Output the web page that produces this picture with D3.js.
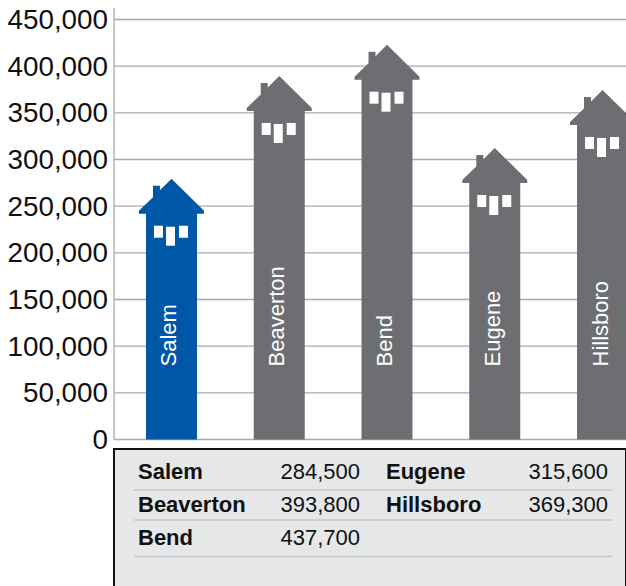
<!DOCTYPE html>
<html>
<head>
<meta charset="utf-8">
<script src="https://cdn.jsdelivr.net/npm/d3@7"></script>
<style>
  html, body { margin: 0; padding: 0; background: #fff; overflow: hidden; }
  text { font-family: "Liberation Sans", Arial, sans-serif; }
</style>
</head>
<body>
<div id="chart"></div>
<script>
const cities = ["Salem", "Beaverton", "Bend", "Eugene", "Hillsboro"];
// heights as drawn in the picture (roof tip read against the axis)
const drawnValues = [279400, 389500, 423000, 312300, 374500];
// numbers printed in the table under the chart
const tableValues = [284500, 393800, 437700, 315600, 369300];
const yTicks = [0, 50000, 100000, 150000, 200000, 250000, 300000, 350000, 400000, 450000];

const width = 626;
const height = 586;
const blue = "#0057a8";
const grey = "#6d6e71";

const svg = d3.select("#chart").append("svg")
  .attr("width", width)
  .attr("height", height);

const x = d3.scaleBand().domain(cities).range([117.6, 656.4]);
const y = d3.scaleLinear().domain([0, 450000]).range([439.5, 19.5]);
const fmt = d3.format(",");

// gridlines
svg.append("g")
  .selectAll("line")
  .data(yTicks.slice(1))
  .join("line")
  .attr("x1", 114)
  .attr("x2", width)
  .attr("y1", (d) => y(d))
  .attr("y2", (d) => y(d))
  .attr("stroke", "#a7a9ac")
  .attr("stroke-width", 1.3);

// axis
const yAxis = d3.axisLeft(y).tickValues(yTicks).tickFormat(fmt).tickSize(0).tickPadding(6);
const axisG = svg.append("g").attr("transform", "translate(114,0)").call(yAxis);
axisG.select(".domain").remove();
axisG.selectAll("text")
  .attr("font-size", 27.8)
  .attr("fill", "#111")
  .style("font-family", '"Liberation Sans", Arial, sans-serif');

svg.append("line")
  .attr("x1", 114).attr("x2", 114)
  .attr("y1", 8).attr("y2", y(0))
  .attr("stroke", "#a7a9ac").attr("stroke-width", 1.3);
svg.append("line")
  .attr("x1", 114).attr("x2", width)
  .attr("y1", y(0)).attr("y2", y(0))
  .attr("stroke", "#a7a9ac").attr("stroke-width", 1.3);

// house shape, measured from the roof tip at (0,0)
function housePath(h) {
  const bw = 25.5, eave = 32.5, roofH = 35;
  return [
    "M0,0",
    `L${eave},${roofH - 3}`,
    `L${eave},${roofH}`,
    `L${bw},${roofH}`,
    `L${bw},${h}`,
    `L${-bw},${h}`,
    `L${-bw},${roofH}`,
    `L${-eave},${roofH}`,
    `L${-eave},${roofH - 3}`,
    "L-18.5,18.5",
    "L-18.5,7",
    "L-11.5,7",
    "L-11.5,11.5",
    "Z",
  ].join("");
}

const houses = svg.append("g")
  .selectAll("g")
  .data(cities.map((c, i) => ({ city: c, value: drawnValues[i] })))
  .join("g")
  .attr("transform", (d) => `translate(${x(d.city) + x.bandwidth() / 2},${y(d.value)})`);

houses.append("path")
  .attr("d", (d) => housePath(y(0) - y(d.value)))
  .attr("fill", (d, i) => (i === 0 ? blue : grey));

// windows
const windows = [
  { x: -17.5, y: 47, w: 9, h: 12 },
  { x: -5.5, y: 48, w: 9, h: 19 },
  { x: 7.5, y: 47, w: 9, h: 12 },
];
houses.selectAll("rect")
  .data(windows)
  .join("rect")
  .attr("x", (d) => d.x)
  .attr("y", (d) => d.y)
  .attr("width", (d) => d.w)
  .attr("height", (d) => d.h)
  .attr("fill", "#fff");

// rotated labels
houses.append("text")
  .attr("transform", (d) => `translate(5,${y(0) - y(d.value) - 73}) rotate(-90)`)
  .attr("font-size", 22)
  .attr("fill", "#fff")
  .text((d) => d.city);

// table panel, open at the bottom of the page
svg.append("rect")
  .attr("x", 114).attr("y", 449)
  .attr("width", 512).attr("height", 160)
  .attr("fill", "#e6e7e8")
  .attr("stroke", "#111")
  .attr("stroke-width", 2);

const rowY = d3.scalePoint().domain([0, 1, 2]).range([471.5, 537.5]);
const rowLines = [490, 520, 556.5];

svg.append("g")
  .selectAll("line")
  .data(rowLines)
  .join("line")
  .attr("x1", 134)
  .attr("x2", 612)
  .attr("y1", (d) => d)
  .attr("y2", (d) => d)
  .attr("stroke", "#c7c8ca")
  .attr("stroke-width", 1.3);

const rows = cities.map((c, i) => ({
  city: c,
  value: tableValues[i],
  col: i < 3 ? 0 : 1,
  row: i < 3 ? i : i - 3,
}));
const nameX = [138, 386];
const valueX = [360, 608];

const tableG = svg.append("g").attr("font-size", 22).attr("fill", "#111");
tableG.selectAll(".name")
  .data(rows)
  .join("text")
  .attr("class", "name")
  .attr("x", (d) => nameX[d.col])
  .attr("y", (d) => rowY(d.row))
  .attr("dy", "0.35em")
  .attr("font-weight", "bold")
  .text((d) => d.city);
tableG.selectAll(".val")
  .data(rows)
  .join("text")
  .attr("class", "val")
  .attr("x", (d) => valueX[d.col])
  .attr("y", (d) => rowY(d.row))
  .attr("dy", "0.35em")
  .attr("text-anchor", "end")
  .text((d) => fmt(d.value));
</script>
</body>
</html>
